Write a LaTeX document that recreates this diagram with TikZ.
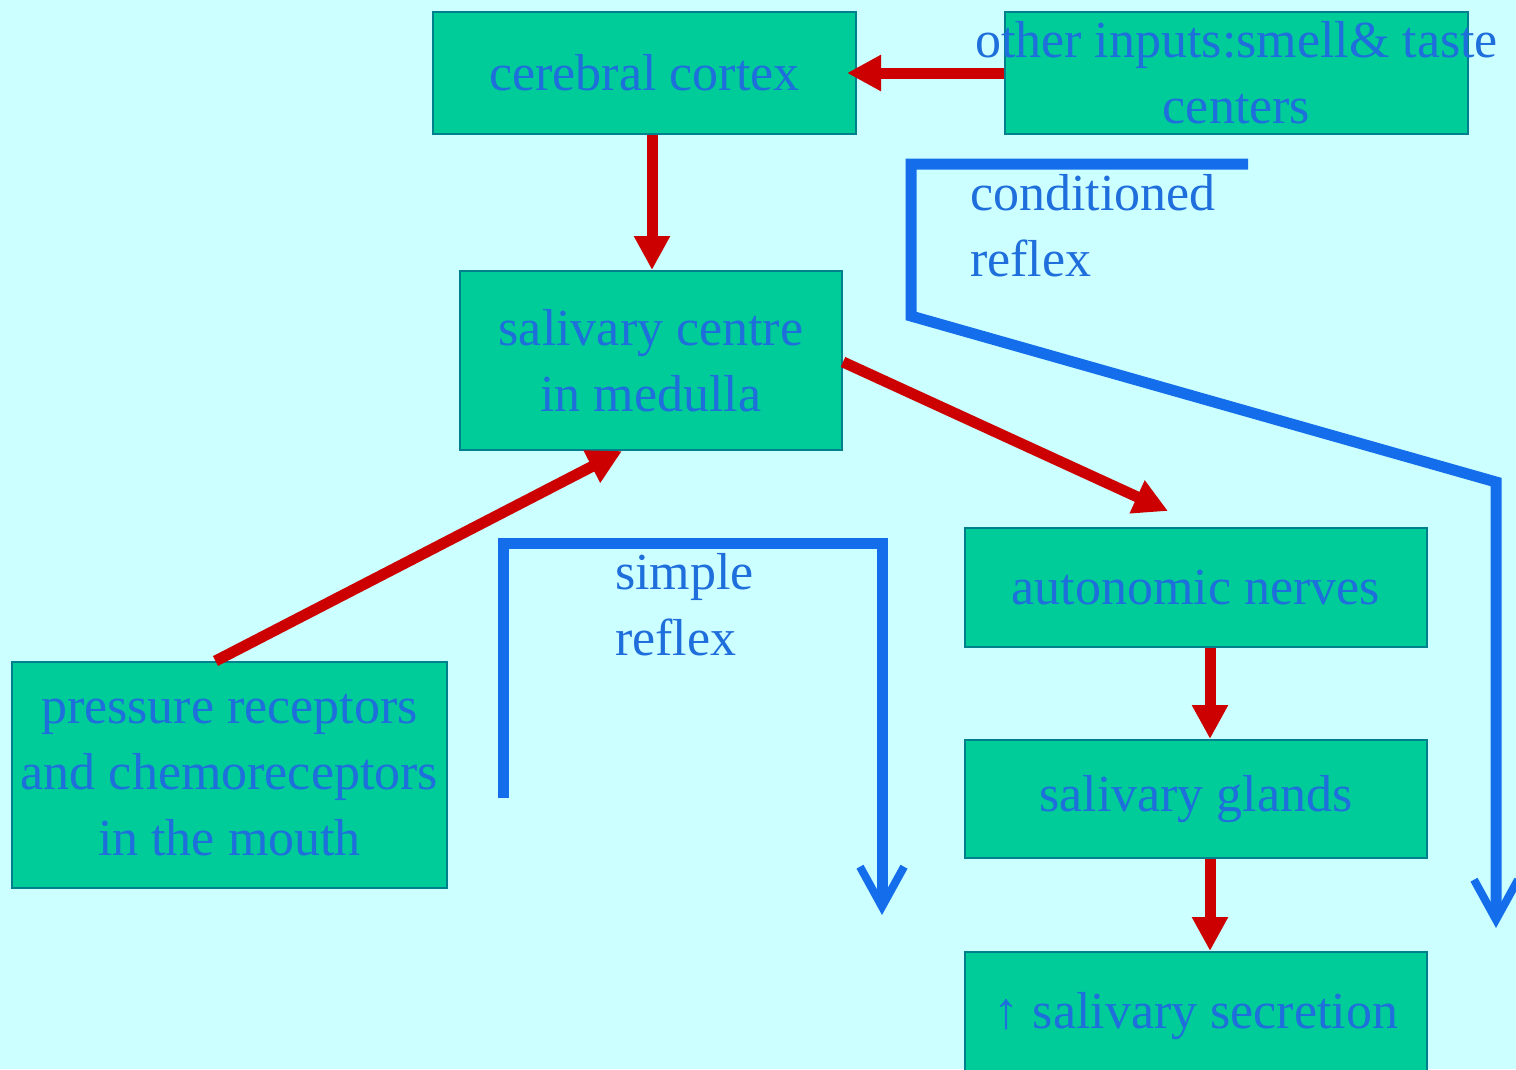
\documentclass[tikz,border=0pt]{standalone}
\usepackage{fontspec}
\setmainfont{Liberation Serif}
\usetikzlibrary{arrows.meta}

\definecolor{bgcyan}{RGB}{204,255,255}
\definecolor{boxgreen}{RGB}{0,204,153}
\definecolor{boxedge}{RGB}{0,128,140}
\definecolor{txtblue}{RGB}{30,110,220}
\definecolor{reflexblue}{RGB}{20,110,235}
\definecolor{arrred}{RGB}{204,0,0}

\tikzset{
  box/.style={draw=boxedge, line width=2pt, fill=boxgreen, text=txtblue,
    inner sep=0pt, align=center, font=\fontsize{52}{66}\selectfont},
  redarrow/.style={draw=arrred, line width=11pt,
    -{Triangle[length=34pt,width=34pt]}},
  reflex/.style={draw=reflexblue, line width=11pt,
    -{Straight Barb[length=40pt,width=44pt,line width=8pt]}},
  reflexlabel/.style={text=txtblue, inner sep=0pt, align=left, anchor=west,
    font=\fontsize{52}{66}\selectfont},
}

\begin{document}
\begin{tikzpicture}[x=1pt,y=-1pt]
	\useasboundingbox (0,0) rectangle (1516,1069);
	\fill[bgcyan] (0,0) rectangle (1516,1069);
	\clip (0,0) rectangle (1516,1069);
	% boxes
	\node[box, minimum width=423pt, minimum height=122pt] (cortex) at (644.5,73) {cerebral cortex};
	\node[box, minimum width=463pt, minimum height=122pt] (inputs) at (1236.5,73) {\makebox[0pt]{other inputs:smell\& taste}\\centers};
	\node[box, minimum width=382pt, minimum height=179pt] (centre) at (651,360.5) {salivary centre\\in medulla};
	\node[box, minimum width=435pt, minimum height=226pt] (receptors) at (229.5,775) {pressure receptors\\\makebox[0pt]{and chemoreceptors}\\in the mouth};
	\node[box, minimum width=462pt, minimum height=119pt] (nerves) at (1196,587.5) {autonomic nerves};
	\node[box, minimum width=462pt, minimum height=118pt] (glands) at (1196,799) {salivary glands};
	\node[box, minimum width=462pt, minimum height=128pt] (secretion) at (1196,1016) {↑ salivary secretion};
	% red arrows
	\draw[redarrow] (inputs.west) -- ([xshift=-10pt]cortex.east);
	\draw[redarrow] ([xshift=7.5pt]cortex.south) -- ([xshift=1pt]centre.north);
	\draw[redarrow] ([xshift=-14pt]receptors.north) -- ([xshift=-29pt]centre.south);
	\draw[redarrow] ([yshift=-1.5pt]centre.east) -- ([xshift=-28pt,yshift=16pt]nerves.north);
	\draw[redarrow] ([xshift=14pt]nerves.south) -- ([xshift=14pt]glands.north);
	\draw[redarrow] ([xshift=14pt]glands.south) -- ([xshift=14pt]secretion.north);
	% reflex paths
	\coordinate (simple start) at (503,798);
	\coordinate (simple corner) at (882,543);
	\coordinate (simple end) at (882,915);
	\draw[reflex] (simple start) |- (simple corner) -- (simple end);
	\node[reflexlabel] (simple text) at (615,605) {simple\\reflex};
	\coordinate (cond start) at (1248,164);
	\coordinate (cond bend) at (911,316);
	\coordinate (cond knee) at (1496,482);
	\coordinate (cond end) at (1496,928);
	\draw[reflex] (cond start) -| (cond bend) -- (cond knee) -- (cond end);
	\node[reflexlabel] (cond text) at (970,226) {conditioned\\reflex};
\end{tikzpicture}
\end{document}
